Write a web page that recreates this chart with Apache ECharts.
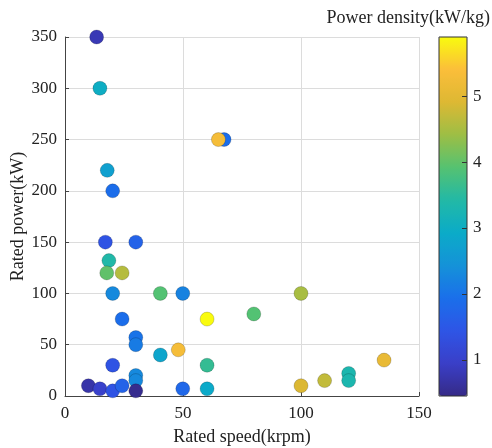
<!DOCTYPE html>
<html>
<head>
<meta charset="utf-8">
<script src="https://cdn.jsdelivr.net/npm/echarts@6/dist/echarts.min.js"></script>
<style>
  html, body { margin: 0; padding: 0; background: #fff; }
  #chart { width: 492px; height: 448px; }
</style>
</head>
<body>
<div id="chart"></div>
<script>
// rated speed (krpm), rated power (kW), power density (kW/kg)
const speed = [13.4, 14.8, 67.4, 65, 17.9, 20.2, 17.1, 30, 18.6, 17.7, 24.2, 20.2, 40.4, 49.9, 100, 80, 24.2, 60.2, 30, 30, 48, 40.4, 135.2, 20.2, 60.2, 120.2, 120.2, 30, 30, 110, 100, 9.9, 14.8, 20.2, 24.2, 30, 49.9, 60.2]
const power = [350, 300, 250, 250, 220, 200, 150, 150, 132, 120, 120, 100, 100, 100, 100, 80, 75, 75, 57, 50, 45, 40, 35, 30, 30, 22, 15, 20, 15, 15, 10, 10, 7, 5, 10, 5, 7, 7]
const density = [0.8, 3.0, 1.9, 5.3, 2.7, 1.9, 1.4, 1.7, 3.4, 4.0, 4.6, 2.3, 3.9, 2.2, 4.5, 3.9, 1.9, 5.9, 2.0, 2.1, 5.3, 2.8, 5.1, 1.4, 3.6, 3.3, 3.3, 2.3, 2.3, 4.7, 4.9, 0.7, 1.0, 1.4, 1.7, 0.5, 1.8, 2.9]

const xTicks = [0, 50, 100, 150]
const yTicks = [0, 50, 100, 150, 200, 250, 300, 350]
const cbTicks = [1, 2, 3, 4, 5]

// parula-like colormap
const parula = ['#352A87', '#3A3FC8', '#2E55E6', '#1A6FEA', '#1592D8', '#0BABC8', '#22B9A6', '#55C271', '#9DBE45', '#DDB833', '#FBBE3A', '#F9FB0E']

const font = 'Liberation Serif'
const points = speed.map((s, i) => [s, power[i], density[i]])

const chart = echarts.init(document.getElementById('chart'))
chart.setOption({
  animation: false,
  title: {
    text: 'Power density(kW/kg)',
    right: 2,
    top: 9,
    padding: 0,
    textStyle: { fontFamily: font, fontSize: 18, fontWeight: 'normal', color: '#222' }
  },
  grid: [
    { left: 65, right: 73, top: 37, bottom: 52, outerBoundsMode: 'none' },
    { left: 439, width: 28, top: 37, height: 359, outerBoundsMode: 'none', show: true, borderColor: '#333', borderWidth: 1, backgroundColor: 'transparent', z: 6 }
  ],
  xAxis: [
    {
      gridIndex: 0,
      type: 'value',
      min: xTicks[0],
      max: xTicks[xTicks.length - 1],
      interval: 50,
      name: 'Rated speed(krpm)',
      nameLocation: 'middle',
      nameGap: 32,
      nameMoveOverlap: false,
      nameTextStyle: { fontFamily: font, fontSize: 18, color: '#222' },
      axisLine: { lineStyle: { color: '#444' } },
      axisTick: { inside: true, length: 4, lineStyle: { color: '#444' } },
      axisLabel: { fontFamily: font, fontSize: 17, color: '#222', margin: 9 },
      splitLine: { lineStyle: { color: '#dcdcdc' } }
    },
    { gridIndex: 1, type: 'value', show: false, min: 0, max: 1 }
  ],
  yAxis: [
    {
      gridIndex: 0,
      type: 'value',
      min: yTicks[0],
      max: yTicks[yTicks.length - 1],
      interval: 50,
      name: 'Rated power(kW)',
      nameLocation: 'middle',
      nameGap: 38,
      nameMoveOverlap: false,
      nameTextStyle: { fontFamily: font, fontSize: 18, color: '#222' },
      axisLine: { show: true, lineStyle: { color: '#444' } },
      axisTick: { show: true, inside: true, length: 4, lineStyle: { color: '#444' } },
      axisLabel: { fontFamily: font, fontSize: 17, color: '#222', margin: 8 },
      splitLine: { lineStyle: { color: '#dcdcdc' } }
    },
    {
      gridIndex: 1,
      type: 'value',
      position: 'right',
      z: 10,
      min: 0.45,
      max: 5.9,
      axisLine: { show: false, onZero: false },
      axisTick: { show: true, inside: true, length: 5, customValues: cbTicks, lineStyle: { color: '#333' } },
      axisLabel: { fontFamily: font, fontSize: 17, color: '#222', margin: 6, customValues: cbTicks },
      splitLine: { show: false }
    }
  ],
  visualMap: {
    type: 'continuous',
    seriesIndex: 0,
    dimension: 2,
    min: 0.45,
    max: 5.9,
    calculable: false,
    showLabel: false,
    text: null,
    left: 439,
    top: 37,
    padding: 0,
    itemWidth: 28,
    itemHeight: 359,
    inRange: { color: parula }
  },
  series: [
    {
      type: 'scatter',
      xAxisIndex: 0,
      yAxisIndex: 0,
      symbolSize: 14,
      itemStyle: { opacity: 1, borderColor: 'rgba(0,0,0,0.18)', borderWidth: 1 },
      data: points
    }
  ]
})
</script>
</body>
</html>
